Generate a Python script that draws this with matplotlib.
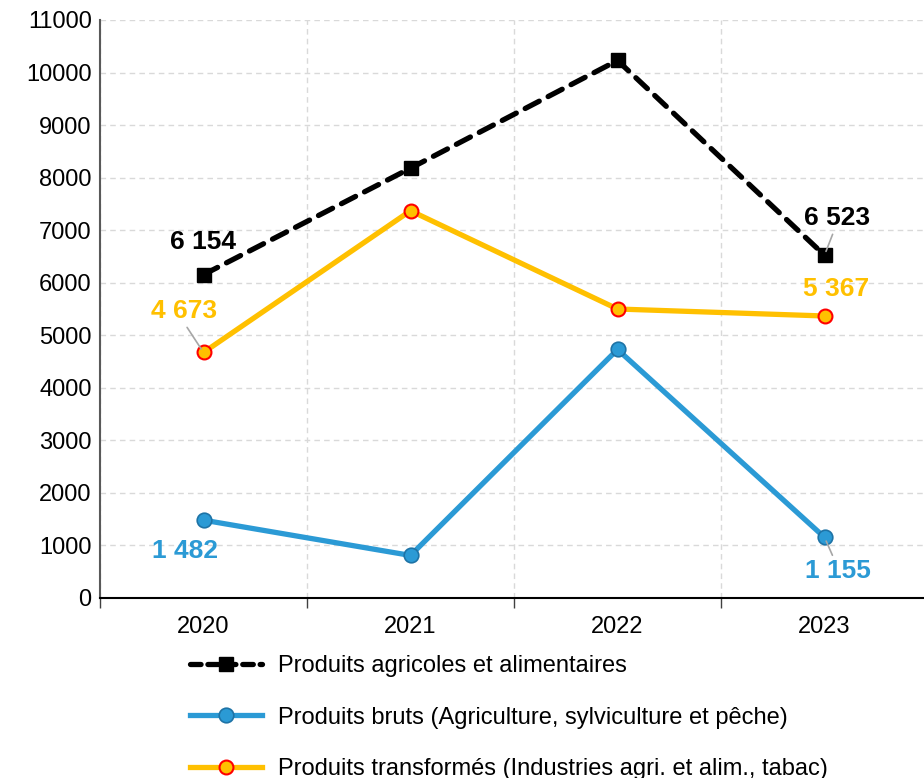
import matplotlib
matplotlib.use("Agg")
import matplotlib.pyplot as plt
from matplotlib.lines import Line2D

plt.rcParams['font.family'] = ['Liberation Sans', 'DejaVu Sans']

years = ["2020", "2021", "2022", "2023"]
total = [6154, 8180, 10230, 6523]
bruts = [1482, 810, 4730, 1155]
transformes = [4673, 7370, 5500, 5367]
labels_total = {0: "6 154", 3: "6 523"}
labels_bruts = {0: "1 482", 3: "1 155"}
labels_transf = {0: "4 673", 3: "5 367"}
series_names = ["Produits agricoles et alimentaires",
                "Produits bruts (Agriculture, sylviculture et pêche)",
                "Produits transformés (Industries agri. et alim., tabac)"]

BLACK = "#000000"
BLUE = "#2B9AD5"
BLUE_EDGE = "#1E73A6"
ORANGE = "#FFC000"
RED = "#FF0000"
DASH = (0, (3.0, 1.9))

W, H = 924, 778
fig = plt.figure(figsize=(W / 100, H / 100), dpi=100)
left, right, top, bottom = 100, 928, 20, 598
ax = fig.add_axes([left / W, 1 - bottom / H, (right - left) / W, (bottom - top) / H])

x = list(range(len(years)))
ax.plot(x, total, color=BLACK, lw=3.8, ls=DASH, dash_capstyle='round',
        marker='s', ms=10, mfc=BLACK, mec=BLACK, zorder=5)
ax.plot(x, bruts, color=BLUE, lw=3.8, marker='o', ms=10.5, mfc=BLUE, mec=BLUE_EDGE, mew=1.2, zorder=4)
ax.plot(x, transformes, color=ORANGE, lw=3.8, marker='o', ms=10, mfc=ORANGE, mec=RED, mew=1.5, zorder=4)

ax.set_xlim(-0.5, 3.5)
ax.set_ylim(0, 11000)
ax.set_yticks(range(0, 11001, 1000))
ax.set_xticks(x)
ax.set_xticklabels(years)
ax.set_xticks([-0.5, 0.5, 1.5, 2.5, 3.5], minor=True)
ax.tick_params(axis='x', which='major', length=0, labelsize=17, pad=13)
ax.tick_params(axis='x', which='minor', length=7, width=1, color='#404040', direction='out')
ax.tick_params(axis='y', length=0, labelsize=17, pad=6)

ax.grid(axis='y', which='major', color='#D9D9D9', ls=(0, (4, 3)), lw=1)
ax.grid(axis='x', which='minor', color='#D9D9D9', ls=(0, (4, 3)), lw=1)
ax.set_axisbelow(True)
for s in ['top', 'right']:
    ax.spines[s].set_visible(False)
ax.spines['left'].set_color('#595959')
ax.spines['left'].set_linewidth(1.5)
ax.spines['bottom'].set_color('#000000')
ax.spines['bottom'].set_linewidth(1.5)

def lab(i, vals, text, color, dx, dy, leader=None):
    kw = dict(textcoords='offset pixels', ha='center', va='center',
              fontsize=19, fontweight='bold', color=color, zorder=6)
    if leader is not None:
        kw['arrowprops'] = dict(arrowstyle='-', color='#A6A6A6', lw=1.2,
                                relpos=leader, shrinkA=1, shrinkB=3)
    ax.annotate(text, xy=(i, vals[i]), xytext=(dx, dy), **kw)

lab(0, total, labels_total[0], BLACK, 0, 33)
lab(3, total, labels_total[3], BLACK, 13, 37, leader=(0.45, 0.0))
lab(0, transformes, labels_transf[0], ORANGE, -19, 41, leader=(0.5, 0.0))
lab(3, transformes, labels_transf[3], ORANGE, 12, 27)
lab(0, bruts, labels_bruts[0], BLUE, -18, -31)
lab(3, bruts, labels_bruts[3], BLUE, 13, -34, leader=(0.45, 1.0))

handles = [
    Line2D([], [], color=BLACK, lw=3.8, ls=(0, (2.0, 1.3)), dash_capstyle='round', marker='s', ms=10),
    Line2D([], [], color=BLUE, lw=3.8, marker='o', ms=10.5, mfc=BLUE, mec=BLUE_EDGE, mew=1.2),
    Line2D([], [], color=ORANGE, lw=3.8, marker='o', ms=10, mfc=ORANGE, mec=RED, mew=1.5),
]
fig.legend(handles, series_names, loc='upper left', bbox_to_anchor=(190 / W, 1 - 655 / H),
           frameon=False, fontsize=17, handlelength=3.05, handletextpad=0.68,
           labelspacing=1.25, borderpad=0, borderaxespad=0)

fig.savefig("out.png", dpi=100)
